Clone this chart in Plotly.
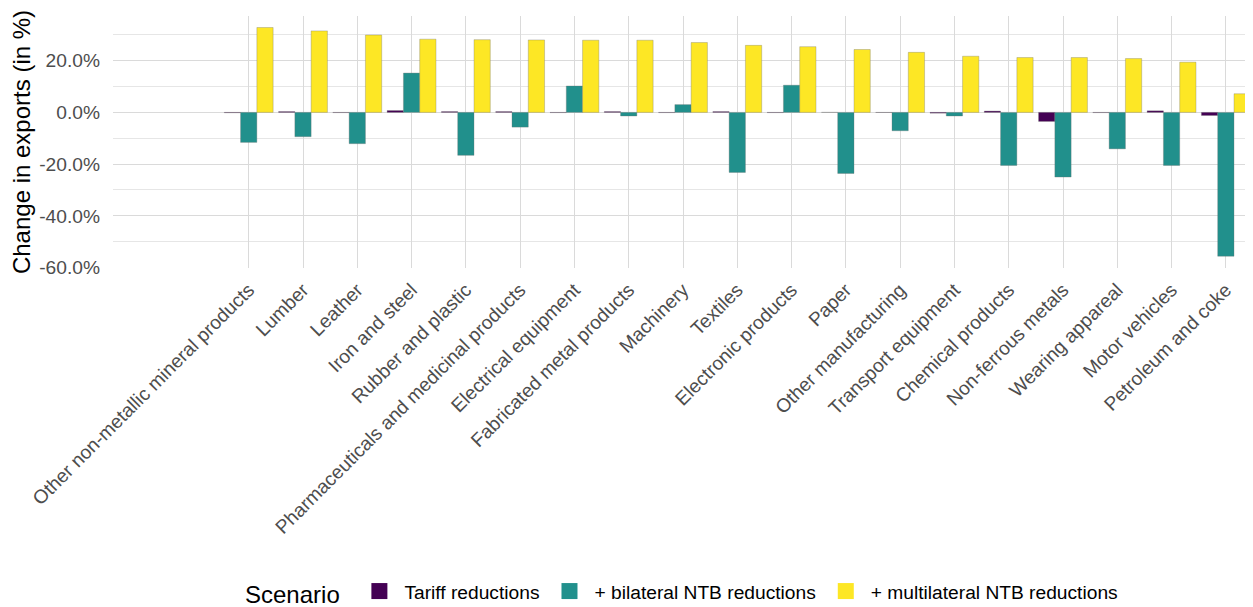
import plotly.graph_objects as go

categories = [
    "Other non-metallic mineral products", "Lumber", "Leather", "Iron and steel",
    "Rubber and plastic", "Pharmaceuticals and medicinal products", "Electrical equipment",
    "Fabricated metal products", "Machinery", "Textiles", "Electronic products", "Paper",
    "Other manufacturing", "Transport equipment", "Chemical products", "Non-ferrous metals",
    "Wearing appareal", "Motor vehicles", "Petroleum and coke",
]
tariff = [-0.15, 0.3, -0.1, 0.7, 0.3, 0.3, -0.1, 0.3, -0.1, 0.3, -0.1, 0.0, -0.05,
          -0.3, 0.5, -3.5, -0.1, 0.6, -1.2]
bilateral = [-11.6, -9.4, -12.1, 15.2, -16.6, -5.7, 10.2, -1.4, 3.0, -23.2, 10.5, -23.6,
             -7.1, -1.4, -20.5, -25.0, -14.1, -20.5, -55.6]
multilateral = [32.8, 31.5, 29.9, 28.3, 28.1, 28.0, 27.9, 27.9, 27.0, 25.9, 25.4, 24.3,
                23.2, 21.7, 21.2, 21.2, 20.8, 19.4, 7.2]
series_names = ["Tariff reductions", "+ bilateral NTB reductions", "+ multilateral NTB reductions"]
colors = ["#440154", "#21908C", "#FDE725"]
y_ticks = [-60, -40, -20, 0, 20]

FONT = "Liberation Sans, Arial, Helvetica, sans-serif"

fig = go.Figure()
for name, vals, col in zip(series_names, [tariff, bilateral, multilateral], colors):
    fig.add_trace(go.Bar(
        x=categories, y=vals, name=name, showlegend=False, legendgroup=name,
        marker=dict(color=col, line=dict(color="rgba(110,110,110,0.55)", width=0.6)),
        hoverinfo="x+y",
    ))
# legend keys (larger squares than the default bar legend symbol)
for name, col in zip(series_names, colors):
    fig.add_trace(go.Scatter(
        x=[None], y=[None], mode="markers", name=name, legendgroup=name,
        marker=dict(symbol="square", size=28, color=col, line=dict(width=0)),
        hoverinfo="skip",
    ))

fig.update_layout(
    width=1245, height=599,
    margin=dict(l=105, r=0, t=8, b=339, autoexpand=False),
    paper_bgcolor="white", plot_bgcolor="white",
    barmode="group", bargap=0.1, bargroupgap=0,
    font=dict(family=FONT, color="#4d4d4d", size=19.2),
    showlegend=True,
    legend=dict(
        orientation="h", x=0.5, xanchor="center", y=-1.29, yanchor="middle",
        title=dict(text="Scenario ", font=dict(size=24, color="black"), side="left"),
        font=dict(size=19.2, color="black"),
        itemsizing="trace", itemwidth=40,
    ),
)

fig.update_xaxes(
    type="category",
    range=[-2.5, 18.5],
    tickangle=-45,
    tickfont=dict(size=19.2, color="#4d4d4d", family=FONT),
    showgrid=True, gridcolor="#dadada", gridwidth=1.4,
    showline=False, zeroline=False,
    ticks="", ticklabelstandoff=6,
    automargin=False,
)
fig.update_yaxes(
    range=[-60.15, 37.25],
    tickvals=y_ticks,
    ticktext=[f"{v:.1f}%" for v in y_ticks],
    tickfont=dict(size=19.2, color="#4d4d4d", family=FONT),
    showgrid=True, gridcolor="#dadada", gridwidth=1.4,
    minor=dict(tickvals=[-50, -30, -10, 10, 30], showgrid=True, gridcolor="#e6e6e6", gridwidth=1.1),
    zeroline=False, showline=False,
    ticks="", ticklabelstandoff=12,
    title=dict(text="Change in exports (in %)", font=dict(size=24, color="black", family=FONT), standoff=6),
    automargin=False,
)

fig.write_html("out.html")
